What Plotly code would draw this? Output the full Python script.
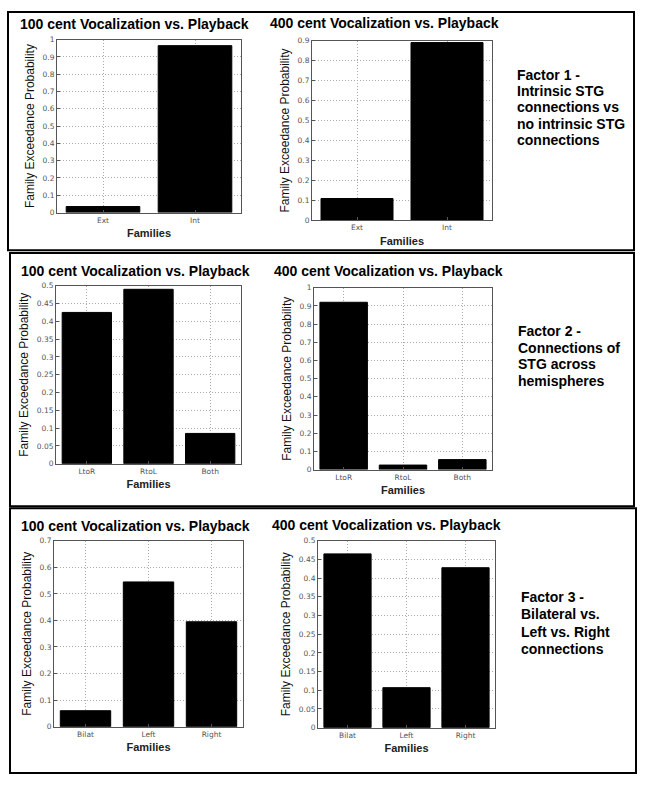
import plotly.graph_objects as go

W, H = 645, 788

# ---- data ----
cats_f1 = ["Ext", "Int"]
cats_f2 = ["LtoR", "RtoL", "Both"]
cats_f3 = ["Bilat", "Left", "Right"]

f1_100 = [0.035, 0.965]
f1_400 = [0.11, 0.89]
f2_100 = [0.425, 0.49, 0.085]
f2_400 = [0.92, 0.025, 0.055]
f3_100 = [0.06, 0.545, 0.395]
f3_400 = [0.465, 0.107, 0.428]

titles = ["100 cent Vocalization vs. Playback", "400 cent Vocalization vs. Playback"] * 3
factor_texts = [
    ["Factor 1 -", "Intrinsic STG", "connections vs", "no intrinsic STG", "connections"],
    ["Factor 2 -", "Connections of", "STG across", "hemispheres"],
    ["Factor 3 -", "Bilateral vs.", "Left vs. Right", "connections"],
]

panels = [
    (cats_f1, f1_100, 1.0, 0.1),
    (cats_f1, f1_400, 0.9, 0.1),
    (cats_f2, f2_100, 0.5, 0.05),
    (cats_f2, f2_400, 1.0, 0.1),
    (cats_f3, f3_100, 0.7, 0.1),
    (cats_f3, f3_400, 0.5, 0.05),
]

# pixel boxes of plot areas: x0, x1, ytop, ybottom
boxes = [
    (57, 241, 36, 211),
    (312, 492, 37, 219),
    (56, 241, 285, 465),
    (314, 492, 287, 471),
    (54, 243, 543, 731),
    (318, 495, 543, 732),
]
title_pos = [(134, 20), (385, 19), (135, 270), (388, 270), (135, 528), (386, 527)]
factor_pos = [(515, [72, 88.5, 104.5, 121, 138]),
              (516, [331, 348, 364.5, 381]),
              (519, [600, 617.5, 635, 652.5])]
frames = [(8, 8, 634, 249), (10, 252, 634, 508), (10, 510, 636, 778)]

def px(x):
    return x / W

def py(y):
    return 1 - y / H

fig = go.Figure()
layout = dict(width=W, height=H, margin=dict(l=0, r=0, t=0, b=0),
              paper_bgcolor="white", plot_bgcolor="white", showlegend=False,
              bargap=0.2)
annotations = []
shapes = []

for i, ((cats, vals, ymax, dt), (x0, x1, yt, yb)) in enumerate(zip(panels, boxes)):
    n = i + 1
    xa = "x" if n == 1 else f"x{n}"
    ya = "y" if n == 1 else f"y{n}"
    fig.add_trace(go.Bar(x=cats, y=vals, xaxis=xa, yaxis=ya, width=0.8,
                         marker=dict(color="black", line=dict(color="black", width=1))))
    axcommon = dict(showline=True, linecolor="#555", linewidth=1, mirror=True,
                    showgrid=True, gridcolor="#aaa", gridwidth=1, griddash="1px,2px",
                    ticks="inside", ticklen=3, tickcolor="#555",
                    tickfont=dict(family="DejaVu Sans", size=7.5, color="#555"),
                    zeroline=False, fixedrange=True)
    layout["xaxis" if n == 1 else f"xaxis{n}"] = dict(
        axcommon, domain=[px(x0), px(x1)], anchor=ya, type="category",
        range=[-0.5, len(cats) - 0.5],
        title=dict(text="<b>Families</b>", standoff=5,
                   font=dict(family="Liberation Sans", size=11, color="#222")))
    layout["yaxis" if n == 1 else f"yaxis{n}"] = dict(
        axcommon, domain=[py(yb), py(yt)], anchor=xa, range=[0, ymax], dtick=dt,
        tick0=0,
        title=dict(text="Family Exceedance Probability", standoff=5,
                   font=dict(family="Liberation Sans", size=12, color="#111")))
    tx, ty = title_pos[i]
    annotations.append(dict(text="<b>" + titles[i] + "</b>", x=px(tx), y=py(ty),
                            xref="paper", yref="paper", showarrow=False,
                            xanchor="center", yanchor="middle",
                            font=dict(family="Liberation Sans", size=14, color="black")))

for (fx, ys), lines in zip(factor_pos, factor_texts):
    for line, yy in zip(lines, ys):
        annotations.append(dict(text="<b>" + line + "</b>", x=px(fx), y=py(yy),
                                xref="paper", yref="paper", showarrow=False,
                                xanchor="left", yanchor="middle",
                                font=dict(family="Liberation Sans", size=14, color="black")))

for (x0, y0, x1, y1) in frames:
    shapes.append(dict(type="rect", xref="paper", yref="paper",
                       x0=px(x0), x1=px(x1), y0=py(y1), y1=py(y0),
                       line=dict(color="black", width=2)))

layout["annotations"] = annotations
layout["shapes"] = shapes
fig.update_layout(**layout)
fig.write_html("out.html", config={"displayModeBar": False},
               post_script="document.body.style.margin='0';document.body.style.overflow='hidden';")
